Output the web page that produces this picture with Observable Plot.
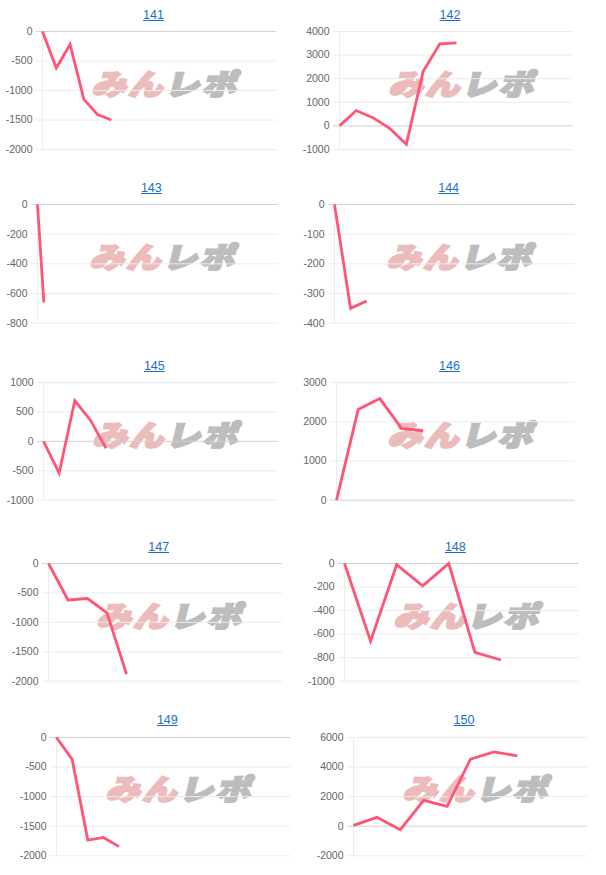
<!DOCTYPE html>
<html>
<head>
<meta charset="utf-8">
<script src="https://cdn.jsdelivr.net/npm/d3@7"></script>
<script src="https://cdn.jsdelivr.net/npm/@observablehq/plot@0.6"></script>
<style>
  html, body { margin: 0; padding: 0; background: #fff; }
  body { font-family: Arial, "Liberation Sans", sans-serif; }
  #wrap { position: relative; width: 606px; height: 875px; overflow: hidden; }
  .title { position: absolute; font-size: 12.5px; color: #1a6dcf; text-decoration: underline; transform: translate(-50%, -50%); white-space: nowrap; }
  .wm { position: absolute; transform: translate(-50%, -50%) skewX(-14deg) scale(1.08, 0.9); font-family: "Noto Sans CJK JP", sans-serif; font-weight: 900; font-size: 32px; line-height: 1; white-space: nowrap; letter-spacing: 2px; }
  .wm .a { color: #ecbcbc; -webkit-text-stroke: 2.5px #ecbcbc; }
  .wm .b { color: #bdbdbd; -webkit-text-stroke: 2.5px #bdbdbd; }
  svg { position: absolute; }
</style>
</head>
<body>
<div id="wrap"></div>
<script>
// ---- data ----
const titles = ["141", "142", "143", "144", "145", "146", "147", "148", "149", "150"];

const series141 = [0, -620, -220, -1150, -1410, -1500];
const series142 = [0, 650, 350, -100, -780, 2300, 3480, 3520];
const series143 = [0, -660];
const series144 = [0, -350, -325];
const series145 = [0, -540, 690, 360, -120];
const series146 = [0, 2310, 2590, 1830, 1770];
const series147 = [0, -620, -595, -840, -1880];
const series148 = [0, -660, -10, -190, 0, -755, -820];
const series149 = [0, -370, -1735, -1690, -1845];
const series150 = [60, 600, -230, 1750, 1340, 4540, 5030, 4760];

const ticks141 = [0, -500, -1000, -1500, -2000];
const ticks142 = [4000, 3000, 2000, 1000, 0, -1000];
const ticks143 = [0, -200, -400, -600, -800];
const ticks144 = [0, -100, -200, -300, -400];
const ticks145 = [1000, 500, 0, -500, -1000];
const ticks146 = [3000, 2000, 1000, 0];
const ticks147 = [0, -500, -1000, -1500, -2000];
const ticks148 = [0, -200, -400, -600, -800, -1000];
const ticks149 = [0, -500, -1000, -1500, -2000];
const ticks150 = [6000, 4000, 2000, 0, -2000];

// number of x slots (category count - 1) per panel
const xSlots = [17, 14, 38, 15, 15, 11, 12, 9, 15, 10];

const allSeries = [series141, series142, series143, series144, series145, series146, series147, series148, series149, series150];
const allTicks = [ticks141, ticks142, ticks143, ticks144, ticks145, ticks146, ticks147, ticks148, ticks149, ticks150];

// ---- layout: plot frame [left, right, top, bottom] in page pixels ----
const layout = [
  [42.3, 276.7, 31, 149], [339, 573, 31, 149],
  [37, 277.7, 204.3, 323], [334.3, 575, 204.3, 323],
  [43, 277.7, 382.3, 500], [336.3, 574.7, 382.3, 500],
  [47.7, 281.7, 563.3, 681], [344, 578.7, 563.3, 681],
  [56, 290.7, 736.7, 855], [353, 587, 736.7, 855]
];

const wrap = document.getElementById("wrap");
const gridC = "#ececec", zeroC = "#d2d2d2", textC = "#666", lineC = "#ff5574";
const fmt = d => String(d);

titles.forEach((t, i) => {
  const [l, r, top, b] = layout[i];
  const ticks = allTicks[i];
  const mL = 46, mR = 5, mT = 5, mB = 5;

  // watermark (behind)
  const wm = document.createElement("div");
  wm.className = "wm";
  wm.innerHTML = '<span class="a">みん</span><span class="b">レポ</span>';
  wm.style.left = ((l + r) / 2 + 8.5) + "px";
  wm.style.top = ((top + b) / 2 - 8.5) + "px";
  wrap.appendChild(wm);

  const nonZero = ticks.filter(v => v !== 0);
  const chart = Plot.plot({
    width: r - l + mL + mR,
    height: b - top + mT + mB,
    marginLeft: mL, marginRight: mR, marginTop: mT, marginBottom: mB,
    style: { overflow: "visible", background: "transparent", fontFamily: "Arial, 'Liberation Sans', sans-serif" },
    x: { domain: [0, xSlots[i]], axis: null },
    y: { domain: [d3.min(ticks), d3.max(ticks)], axis: null },
    marks: [
      Plot.ruleY(nonZero, { stroke: gridC }),
      Plot.ruleX([0], { stroke: gridC }),
      Plot.ruleY([0], { stroke: zeroC }),
      Plot.axisY(nonZero, { tickSize: 6, tickPadding: 4, stroke: gridC, fill: textC, fontSize: 10.5, label: null, tickFormat: fmt }),
      Plot.axisY([0], { tickSize: 6, tickPadding: 4, stroke: zeroC, fill: textC, fontSize: 10.5, label: null, tickFormat: fmt }),
      Plot.lineY(allSeries[i], { stroke: lineC, strokeWidth: 2.8, strokeLinejoin: "miter", strokeMiterlimit: 10, strokeLinecap: "butt" })
    ]
  });
  chart.style.left = (l - mL) + "px";
  chart.style.top = (top - mT) + "px";
  wrap.appendChild(chart);

  const tt = document.createElement("div");
  tt.className = "title";
  tt.textContent = t;
  tt.style.left = ((l + r) / 2 - 6) + "px";
  tt.style.top = (top - 16.5) + "px";
  wrap.appendChild(tt);
});
</script>
</body>
</html>
